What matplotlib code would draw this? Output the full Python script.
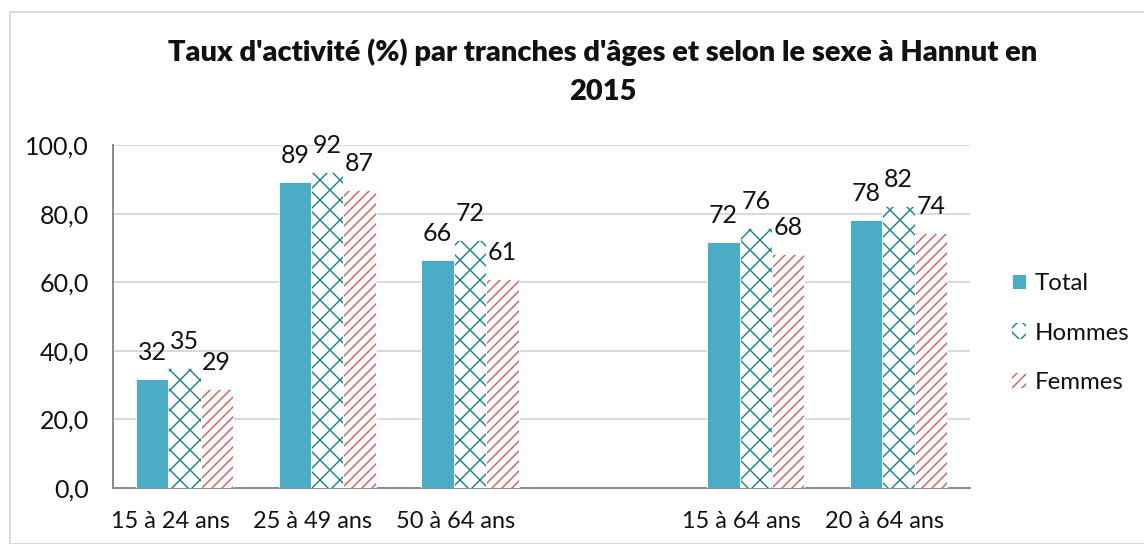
import numpy as np
import matplotlib
matplotlib.use("Agg")
import matplotlib.pyplot as plt
from matplotlib.patches import Patch, Rectangle

# activity rates by age bracket, Hannut 2015
groups = ["15 à 24 ans", "25 à 49 ans", "50 à 64 ans", "", "15 à 64 ans", "20 à 64 ans"]
total = [31.7, 89.3, 66.4, np.nan, 71.8, 78.2]
hommes = [34.9, 92.2, 72.4, np.nan, 75.9, 82.3]
femmes = [28.8, 86.9, 61.0, np.nan, 68.3, 74.4]
yticks = [0, 20, 40, 60, 80, 100]

DPI = 60
PX = 72 / DPI  # points per pixel

plt.rcParams["font.family"] = ["Lato", "DejaVu Sans"]
plt.rcParams["hatch.linewidth"] = 1.7

FS = 25 * PX     # value and y tick text
FS_X = 23.5 * PX  # category labels
FS_L = 24 * PX   # legend
FS_T = 29 * PX   # title

fig = plt.figure(figsize=(1144 / DPI, 544 / DPI), dpi=DPI)
ax = fig.add_axes([113 / 1144, 1 - 488 / 544, (970 - 113) / 1144, (488 - 145) / 544])

x = np.arange(len(groups)) + 0.5
w = 0.227

c_total = "#4bacc6"
c_hom = "#17808d"
c_fem = "#d25a5c"

ax.bar(x - w, total, w, color=c_total, edgecolor="white", linewidth=1.0, zorder=3)
ax.bar(x, hommes, w, color="white", edgecolor=c_hom, hatch="x", linewidth=0, zorder=3)
ax.bar(x, hommes, w, fill=False, edgecolor="white", linewidth=1.0, zorder=4)
ax.bar(x + w, femmes, w, color="white", edgecolor=c_fem, hatch="//", linewidth=0, zorder=3)
ax.bar(x + w, femmes, w, fill=False, edgecolor="white", linewidth=1.0, zorder=4)

# value labels above each bar
for off, vals in ((-w, total), (0, hommes), (w, femmes)):
    for xi, v in zip(x, vals):
        if np.isnan(v):
            continue
        ax.annotate(f"{v:.0f}", (xi + off, v), xytext=(0, 15 * PX),
                    textcoords="offset points", ha="center", va="bottom",
                    fontsize=FS, color="#111111", zorder=5)

ax.set_xlim(0, len(groups))
ax.set_ylim(0, 100)
ax.set_yticks(yticks)
ax.set_yticklabels([f"{t:.1f}".replace(".", ",") for t in yticks])
ax.set_xticks(x - 0.1)
ax.set_xticklabels(groups)
ax.tick_params(axis="both", length=0, labelsize=FS, colors="#111111")
ax.tick_params(axis="x", labelsize=FS_X, pad=23 * PX)
ax.tick_params(axis="y", pad=24 * PX)

ax.grid(axis="y", color="#d9d9d9", linewidth=2 * PX, zorder=0)
for s in ("top", "right"):
    ax.spines[s].set_visible(False)
for s in ("left", "bottom"):
    ax.spines[s].set_color("#8c8c8c")
    ax.spines[s].set_linewidth(2 * PX)

fig.text(603 / 1144, 1 - 52 / 544, "Taux d'activité (%) par tranches d'âges et selon le sexe à Hannut en",
         ha="center", va="center", fontsize=FS_T, fontweight="heavy", color="#111111")
fig.text(603 / 1144, 1 - 92 / 544, "2015",
         ha="center", va="center", fontsize=FS_T, fontweight="heavy", color="#111111")

handles = [
    Patch(facecolor=c_total, edgecolor="white", label="Total"),
    Patch(facecolor="white", edgecolor=c_hom, hatch="x", linewidth=0, label="Hommes"),
    Patch(facecolor="white", edgecolor=c_fem, hatch="//", linewidth=0, label="Femmes"),
]
fig.legend(handles=handles, loc="center left", bbox_to_anchor=(990 / 1144, 1 - 333 / 544),
           frameon=False, fontsize=FS_L, handlelength=0.6, handleheight=0.6,
           handletextpad=0.35, labelspacing=1.2, labelcolor="#111111")

# light frame around the chart area
fig.patches.append(Rectangle((10 / 1144, 0), 1, 1 - 12 / 544, transform=fig.transFigure,
                             fill=False, edgecolor="#d9d9d9", linewidth=2 * PX))

fig.savefig("out.png", dpi=DPI)
